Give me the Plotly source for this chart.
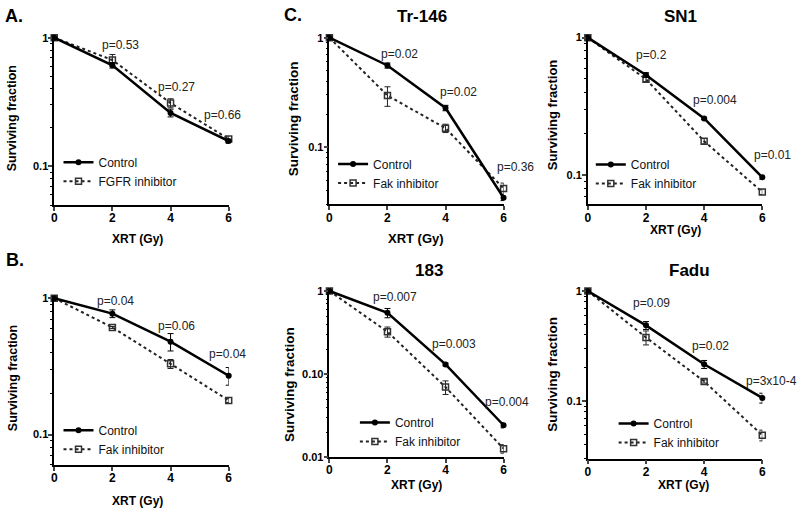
import plotly.graph_objects as go
import math

W, H = 800, 514
FONT = "Liberation Sans, Arial, sans-serif"

dose = [0, 2, 4, 6]

# ---- data (surviving fraction) ----
a_ctrl = [1.0, 0.61, 0.26, 0.157]
a_ctrl_err = [0.01, 0.03, 0.018, 0.006]
a_trt = [1.0, 0.67, 0.31, 0.163]
a_trt_err = [0.01, 0.07, 0.025, 0.006]

b_ctrl = [1.0, 0.77, 0.48, 0.27]
b_ctrl_err = [0.01, 0.05, 0.07, 0.04]
b_trt = [1.0, 0.61, 0.33, 0.178]
b_trt_err = [0.01, 0.01, 0.025, 0.006]

tr_ctrl = [1.0, 0.557, 0.228, 0.0345]
tr_ctrl_err = [0.01, 0.03, 0.013, 0.002]
tr_trt = [1.0, 0.296, 0.149, 0.042]
tr_trt_err = [0.01, 0.06, 0.013, 0.005]

sn_ctrl = [1.0, 0.535, 0.258, 0.096]
sn_ctrl_err = [0.01, 0.02, 0.005, 0.003]
sn_trt = [1.0, 0.498, 0.176, 0.075]
sn_trt_err = [0.01, 0.02, 0.008, 0.003]

c183_ctrl = [1.0, 0.547, 0.131, 0.0243]
c183_ctrl_err = [0.01, 0.07, 0.005, 0.0017]
c183_trt = [1.0, 0.324, 0.070, 0.0127]
c183_trt_err = [0.01, 0.045, 0.013, 0.0015]

fadu_ctrl = [1.0, 0.488, 0.216, 0.107]
fadu_ctrl_err = [0.01, 0.04, 0.018, 0.011]
fadu_trt = [1.0, 0.379, 0.151, 0.049]
fadu_trt_err = [0.01, 0.055, 0.005, 0.0055]

pvals_a = ["p=0.53", "p=0.27", "p=0.66"]
pvals_b = ["p=0.04", "p=0.06", "p=0.04"]
pvals_tr = ["p=0.02", "p=0.02", "p=0.36"]
pvals_sn = ["p=0.2", "p=0.004", "p=0.01"]
pvals_183 = ["p=0.007", "p=0.003", "p=0.004"]
pvals_fadu = ["p=0.09", "p=0.02", "p=3x10-4"]

x_ticks = [0, 2, 4, 6]


def px(x):
    return x / W


def py(y):
    return 1 - y / H


panels = [
    dict(ctrl=a_ctrl, ce=a_ctrl_err, trt=a_trt, te=a_trt_err, trt_name="FGFR inhibitor",
         frame=(51.7, 227.7, 31.7, 205.0), yr=(math.log10(0.05), 0.02),
         yt=[0.1, 1], ytt=["0.1", "1"], title=None, title_pos=None, fs=12.5, xfs=12,
         leg=(56, 146.5), pv=pvals_a, pvpos=[(118.3, 41.7), (175, 85), (221.7, 113.3)],
         xt=(136, 240), ytit=(10, 116.7)),
    dict(ctrl=b_ctrl, ce=b_ctrl_err, trt=b_trt, te=b_trt_err, trt_name="Fak inhibitor",
         frame=(51.7, 227.7, 297.9, 470.0), yr=(math.log10(0.06), 0.015),
         yt=[0.1, 1], ytt=["0.1", "1"], title=None, title_pos=None, fs=12.5, xfs=12,
         leg=(56, 420), pv=pvals_b, pvpos=[(113.3, 303.3), (175, 328.3), (226.7, 357.3)],
         xt=(136, 506.5), ytit=(10, 381.7)),
    dict(ctrl=tr_ctrl, ce=tr_ctrl_err, trt=tr_trt, te=tr_trt_err, trt_name="Fak inhibitor",
         frame=(329.3, 505.0, 32.1, 204.4), yr=(math.log10(0.03), 0.02),
         yt=[0.1, 1], ytt=["0.1", "1"], title="Tr-146", title_pos=(423, 13), fs=13.5, xfs=13,
         leg=(333, 148.5), pv=pvals_tr, pvpos=[(400, 50.7), (460, 90), (516.7, 166.7)],
         xt=(416.7, 239), ytit=(293.3, 116.7)),
    dict(ctrl=sn_ctrl, ce=sn_ctrl_err, trt=sn_trt, te=sn_trt_err, trt_name="Fak inhibitor",
         frame=(590.0, 766.0, 31.5, 204.4), yr=(-1.215, 0.02),
         yt=[0.1, 1], ytt=["0.1", "1"], title="SN1", title_pos=(683, 13), fs=13,
         xfs=12, leg=(593, 149), pv=pvals_sn, pvpos=[(654, 52.3), (718.3, 98.3), (776, 154)],
         xt=(678, 230.5), ytit=(554, 113.3)),
    dict(ctrl=c183_ctrl, ce=c183_ctrl_err, trt=c183_trt, te=c183_trt_err, trt_name="Fak inhibitor",
         frame=(329.3, 505.0, 290.2, 462.3), yr=(-2.0, 0.03),
         yt=[0.01, 0.1, 1], ytt=["0.01", "0.10", "1"], title="183", title_pos=(430, 271.7),
         fs=13.5, xfs=12, leg=(355, 412), pv=pvals_183,
         pvpos=[(395, 299.3), (455, 346.7), (508.3, 405.7)],
         xt=(416.7, 490.5), ytit=(289, 388)),
    dict(ctrl=fadu_ctrl, ce=fadu_ctrl_err, trt=fadu_trt, te=fadu_trt_err, trt_name="Fak inhibitor",
         frame=(590.0, 766.0, 290.5, 463.7), yr=(math.log10(0.03), 0.02),
         yt=[0.1, 1], ytt=["0.1", "1"], title="Fadu", title_pos=(693, 271.7), fs=13.5, xfs=12,
         leg=(616, 413), pv=pvals_fadu, pvpos=[(654, 305), (714, 348.3), (775, 384)],
         xt=(686.7, 490.5), ytit=(554, 378)),
]

fig = go.Figure()
annotations = []
layout = {}

minor_vals = []
for dec in [0.001, 0.01, 0.1]:
    minor_vals += [round(dec * k, 6) for k in range(2, 10)]

for i, p in enumerate(panels, start=1):
    xa = "x" if i == 1 else f"x{i}"
    ya = "y" if i == 1 else f"y{i}"
    lg = "legend" if i == 1 else f"legend{i}"
    l, r, t, b = p["frame"]

    fig.add_trace(go.Scatter(
        x=dose, y=p["trt"], name=p["trt_name"], mode="lines+markers",
        line=dict(color="#222222", width=2, dash="dot"),
        marker=dict(symbol="square-open", size=6, color="#333333", line=dict(width=1.5)),
        error_y=dict(type="data", array=p["te"], color="#222222", thickness=1, width=3),
        xaxis=xa, yaxis=ya, legend=lg, cliponaxis=False, legendrank=2))
    fig.add_trace(go.Scatter(
        x=dose, y=p["ctrl"], name="Control", mode="lines+markers",
        line=dict(color="black", width=2.5),
        marker=dict(symbol="circle", size=6, color="black"),
        error_y=dict(type="data", array=p["ce"], color="black", thickness=1, width=3),
        xaxis=xa, yaxis=ya, legend=lg, cliponaxis=False, legendrank=1))

    layout[("xaxis" if i == 1 else f"xaxis{i}")] = dict(
        domain=[px(l), px(r)], range=[0, 6], anchor=ya,
        tickvals=x_ticks, ticks="outside", ticklen=4, tickwidth=1.5,
        ticklabelstandoff=-3,
        showline=True, linecolor="black", linewidth=1.5, showgrid=False, zeroline=False,
        tickfont=dict(family=FONT, size=12, color="black", weight="bold"))
    layout[("yaxis" if i == 1 else f"yaxis{i}")] = dict(
        domain=[py(b), py(t)], type="log", range=list(p["yr"]), anchor=xa,
        tickvals=p["yt"], ticktext=p["ytt"], ticks="outside", ticklen=4, tickwidth=1.5,
        ticklabelstandoff=-2,
        showline=True, linecolor="black", linewidth=1.5, showgrid=False, zeroline=False,
        tickfont=dict(family=FONT, size=11, color="black", weight="bold"),
        minor=dict(tickmode="array", tickvals=minor_vals, ticks="outside", ticklen=2,
                   tickwidth=1, tickcolor="black", showgrid=False))
    layout[lg] = dict(
        x=px(p["leg"][0]), y=py(p["leg"][1]), xanchor="left", yanchor="top",
        bgcolor="rgba(0,0,0,0)", borderwidth=0, itemwidth=30, tracegroupgap=0,
        font=dict(family=FONT, size=12, color="#111111"))

    if p["title"]:
        annotations.append(dict(x=px(p["title_pos"][0]), y=py(p["title_pos"][1]), xref="paper",
                                yref="paper", text=f"<b>{p['title']}</b>", showarrow=False,
                                font=dict(family=FONT, size=17, color="black"),
                                xanchor="center", yanchor="middle"))
    for txt, (tx, ty) in zip(p["pv"], p["pvpos"]):
        annotations.append(dict(x=px(tx), y=py(ty), xref="paper", yref="paper", text=txt,
                                showarrow=False, font=dict(family=FONT, size=12, color="#222222"),
                                xanchor="center", yanchor="middle"))
    annotations.append(dict(x=px(p["xt"][0]), y=py(p["xt"][1]), xref="paper", yref="paper",
                            text="<b>XRT (Gy)</b>", showarrow=False,
                            font=dict(family=FONT, size=p["xfs"], color="black"),
                            xanchor="center", yanchor="middle"))
    annotations.append(dict(x=px(p["ytit"][0]), y=py(p["ytit"][1]), xref="paper", yref="paper",
                            text="<b>Surviving fraction</b>", showarrow=False, textangle=-90,
                            font=dict(family=FONT, size=p["fs"], color="black"),
                            xanchor="center", yanchor="middle"))

for lab, (lx, ly) in [("A.", (11, 12)), ("B.", (12, 261)), ("C.", (293, 11))]:
    annotations.append(dict(x=px(lx), y=py(ly), xref="paper", yref="paper", text=f"<b>{lab}</b>",
                            showarrow=False, font=dict(family=FONT, size=18, color="black"),
                            xanchor="center", yanchor="middle"))

fig.update_layout(
    width=W, height=H, margin=dict(l=0, r=0, t=0, b=0),
    paper_bgcolor="white", plot_bgcolor="white",
    font=dict(family=FONT, color="black"),
    annotations=annotations, showlegend=True, **layout)

# remove the browser's default 8px page margin so the 800x514 figure fills the window
fig.write_html("out.html", config={"displayModeBar": False},
               post_script="document.body.style.margin='0px';")
